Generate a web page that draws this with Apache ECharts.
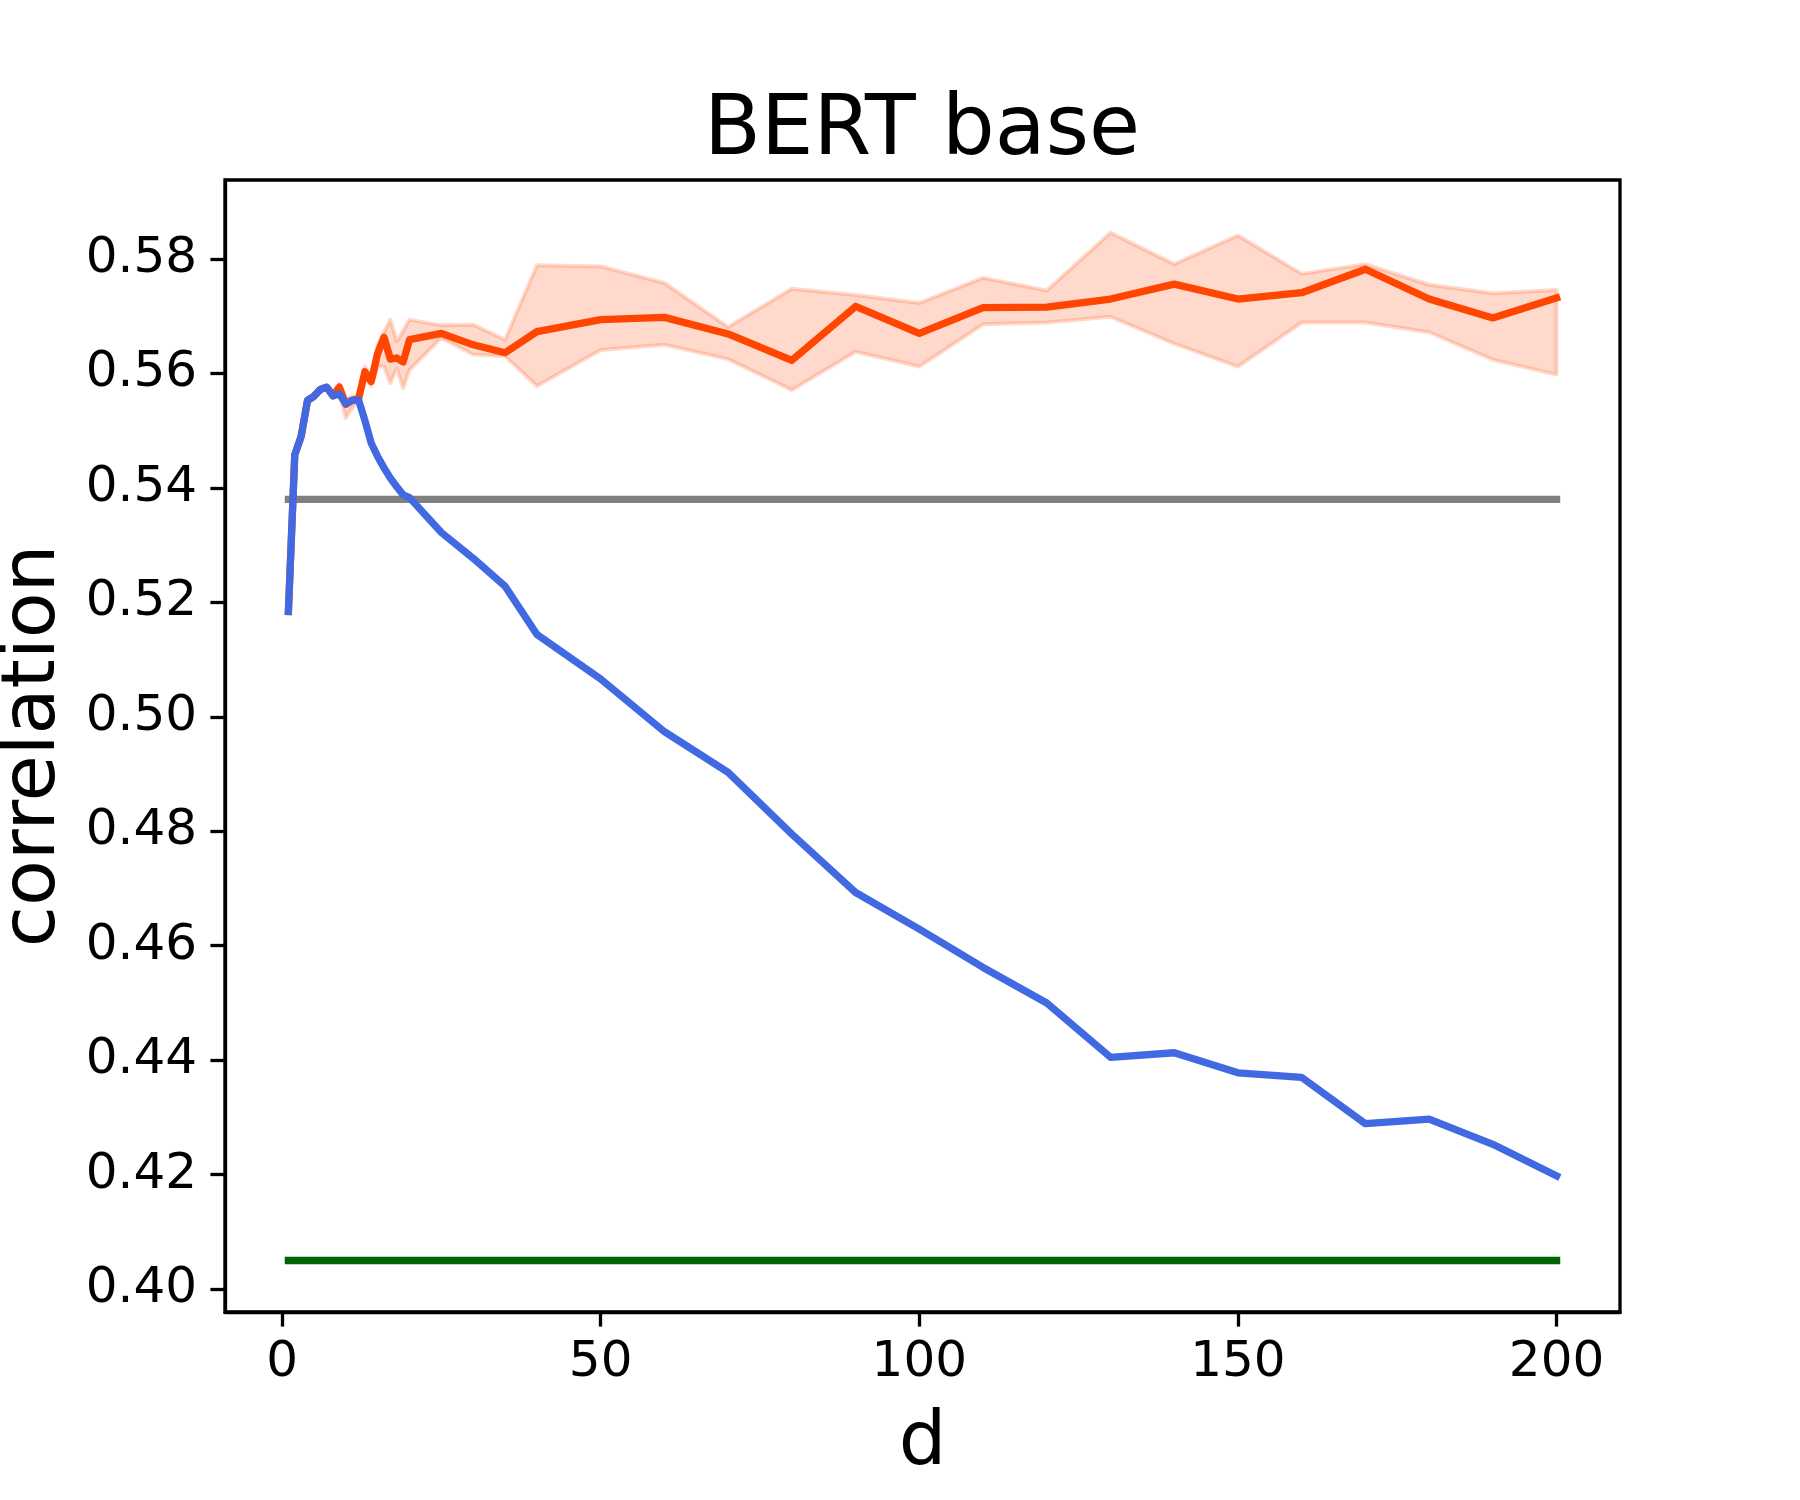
<!DOCTYPE html>
<html>
<head>
<meta charset="utf-8">
<script src="https://cdn.jsdelivr.net/npm/echarts@6/dist/echarts.min.js"></script>
<style>
  html, body { margin: 0; padding: 0; background: #fff; }
  #chart { width: 1800px; height: 1500px; }
</style>
</head>
<body>
<div id="chart"></div>
<script>
// ---- data ----
const dVals = [1,2,3,4,5,6,7,8,9,10,11,12,13,14,15,16,17,18,19,20,25,30,35,40,50,60,70,80,90,100,110,120,130,140,150,160,170,180,190,200];

const blueVals = [0.5184,0.5458,0.5490,0.5553,0.5560,0.5572,0.5576,0.5561,0.5564,0.5547,
                  0.5553,0.5554,0.5518,0.5478,0.5455,0.5435,0.5417,0.5402,0.5388,0.5383,
                  0.5322,0.5277,0.5228,0.5144,0.5066,0.4974,0.4903,0.4795,0.4693,0.4629,
                  0.4562,0.4500,0.4405,0.4413,0.4378,0.4370,0.4289,0.4297,0.4253,0.4198];

const redVals  = [0.5184,0.5458,0.5490,0.5553,0.5560,0.5572,0.5576,0.5561,0.5576,0.5546,
                  0.5553,0.5555,0.5603,0.5586,0.5635,0.5663,0.5625,0.5627,0.5620,0.5659,
                  0.5670,0.5650,0.5636,0.5673,0.5694,0.5698,0.5669,0.5623,0.5717,0.5670,
                  0.5715,0.5716,0.5730,0.5756,0.5730,0.5741,0.5782,0.5730,0.5697,0.5732];

const bandLo   = [0.5184,0.5458,0.5490,0.5553,0.5560,0.5572,0.5576,0.5558,0.5565,0.5522,
                  0.5540,0.5550,0.5596,0.5578,0.5612,0.5612,0.5583,0.5609,0.5574,0.5606,
                  0.5662,0.5633,0.5630,0.5578,0.5641,0.5650,0.5625,0.5571,0.5638,0.5612,
                  0.5686,0.5689,0.5699,0.5652,0.5612,0.5689,0.5689,0.5672,0.5624,0.5598];

const bandHi   = [0.5184,0.5458,0.5490,0.5553,0.5560,0.5572,0.5576,0.5566,0.5582,0.5555,
                  0.5560,0.5560,0.5612,0.5594,0.5648,0.5672,0.5694,0.5656,0.5674,0.5694,
                  0.5684,0.5685,0.5659,0.5789,0.5787,0.5758,0.5681,0.5748,0.5737,0.5723,
                  0.5767,0.5745,0.5846,0.5791,0.5841,0.5774,0.5791,0.5755,0.5740,0.5746];

const grayLevel  = 0.538;
const greenLevel = 0.405;
const lineRange  = [1, 200];

const xTicks = [0, 50, 100, 150, 200];
const yTicks = [0.40, 0.42, 0.44, 0.46, 0.48, 0.50, 0.52, 0.54, 0.56, 0.58];

// ---- chart ----
const FONT = "'DejaVu Sans', sans-serif";
const chart = echarts.init(document.getElementById('chart'), null, { renderer: 'canvas' });

const pairs = vals => dVals.map((d, i) => [d, vals[i]]);
const flat = level => lineRange.map(d => [d, level]);

const lineSeries = (name, data, color) => ({
  name, type: 'line', data, showSymbol: false, symbol: 'none', silent: true,
  lineStyle: { color, width: 7.3, cap: 'square', join: 'round' },
  emphasis: { disabled: true }
});

chart.setOption({
  animation: false,
  backgroundColor: '#fff',
  title: {
    text: 'BERT base',
    left: 917, top: 86, textAlign: 'center',
    textStyle: { fontFamily: FONT, fontSize: 83, fontWeight: 'normal', color: '#000' }
  },
  grid: {
    left: 225, top: 180, width: 1395, height: 1132,
    show: true, borderColor: '#000', borderWidth: 3.3,
    outerBoundsMode: 'none'
  },
  xAxis: {
    type: 'value', min: -8.95, max: 209.95,
    name: 'd', nameLocation: 'middle', nameGap: 95,
    nameTextStyle: { fontFamily: FONT, fontSize: 75, color: '#000' },
    axisLine: { show: true, onZero: false, lineStyle: { color: '#000', width: 3.3 } },
    axisTick: { show: true, customValues: xTicks, length: 14.6, lineStyle: { color: '#000', width: 3.3 } },
    axisLabel: { show: true, customValues: xTicks, margin: 26, fontFamily: FONT, fontSize: 50, color: '#000' },
    splitLine: { show: false }
  },
  yAxis: {
    type: 'value', min: 0.396, max: 0.5938,
    name: 'correlation', nameLocation: 'middle', nameRotate: 90, nameGap: 153,
    nameTextStyle: { fontFamily: FONT, fontSize: 75, color: '#000' },
    axisLine: { show: true, onZero: false, lineStyle: { color: '#000', width: 3.3 } },
    axisTick: { show: true, customValues: yTicks, length: 14.6, lineStyle: { color: '#000', width: 3.3 } },
    axisLabel: { show: true, customValues: yTicks, margin: 28, fontFamily: FONT, fontSize: 50, color: '#000',
                 formatter: v => Number(v).toFixed(2) },
    splitLine: { show: false }
  },
  series: [
    lineSeries('baseline', flat(grayLevel), '#808080'),
    lineSeries('lower baseline', flat(greenLevel), '#006400'),
    {
      name: 'band', type: 'custom', silent: true,
      data: dVals.map((d, i) => [d, bandLo[i], bandHi[i]]),
      encode: { x: 0, y: [1, 2] },
      renderItem: function (params, api) {
        if (params.dataIndex !== 0) return { type: 'group', children: [] };
        const up = dVals.map((d, i) => api.coord([d, bandHi[i]]));
        const lo = dVals.map((d, i) => api.coord([d, bandLo[i]])).reverse();
        return {
          type: 'polygon',
          shape: { points: up.concat(lo) },
          style: { fill: 'rgba(255,69,0,0.2)', stroke: 'rgba(255,69,0,0.2)', lineWidth: 4, lineJoin: 'round' }
        };
      }
    },
    lineSeries('red', pairs(redVals), '#FF4500'),
    lineSeries('blue', pairs(blueVals), '#4169E1')
  ]
});
</script>
</body>
</html>
